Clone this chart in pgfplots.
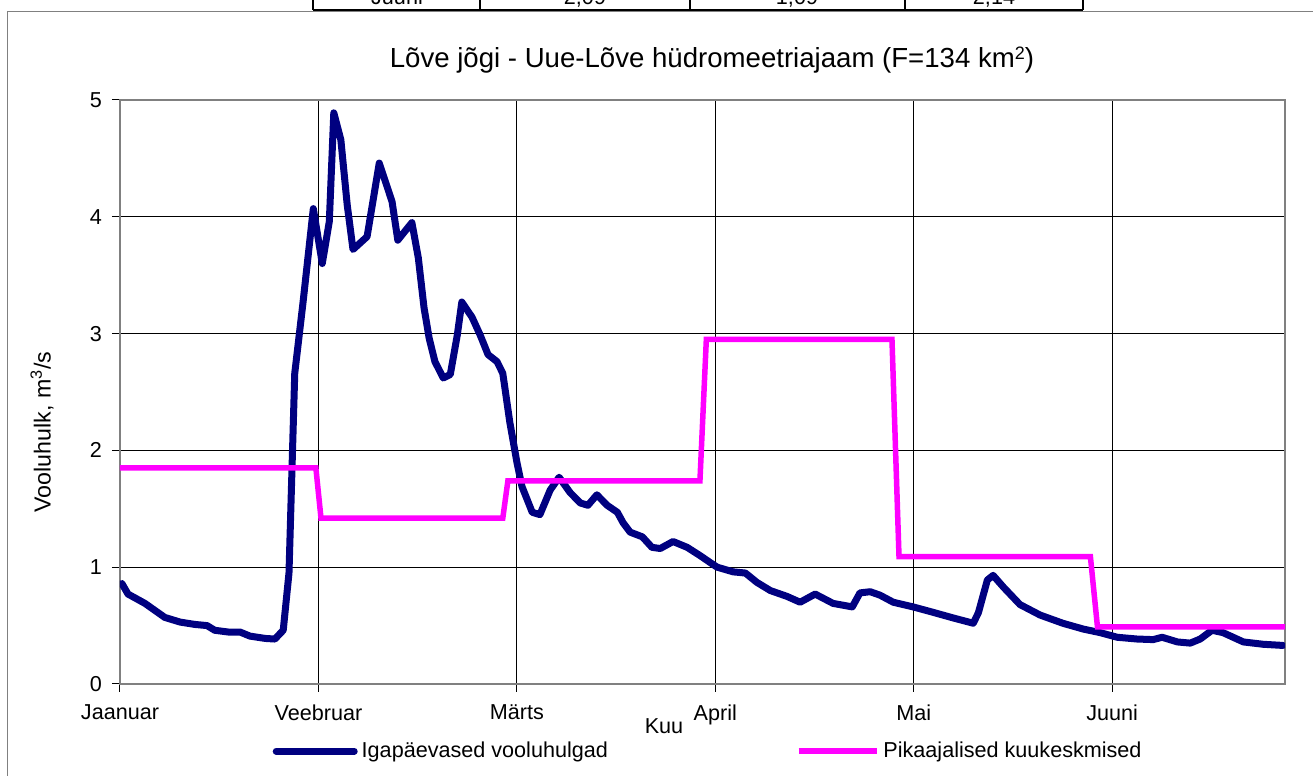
\documentclass[border=0pt]{standalone}
\usepackage{fontspec}
\setmainfont{Liberation Sans}
\usepackage{pgfplots}
\pgfplotsset{compat=1.18}
\definecolor{navyb}{RGB}{0,0,128}
\definecolor{magen}{RGB}{255,0,255}
\definecolor{axgray}{RGB}{128,128,128}
\newcommand{\fs}{\fontsize{10.8pt}{13pt}\selectfont}
\begin{document}
\begin{tikzpicture}
\useasboundingbox (0,0) rectangle (656.5pt,388pt);
% fragment of the table above the chart
\draw[black, line width=1pt] (156.5pt,383pt) -- (541.5pt,383pt);
\foreach \xx in {156.5,240,345,452.5,541.5} {\draw[black, line width=1pt] (\xx pt,383pt) -- (\xx pt,392pt);}
\node[anchor=base, font=\fs, inner sep=0pt] at (198.5pt,385.5pt) {Juuni};
\node[anchor=base, font=\fs, inner sep=0pt] at (292.5pt,385.5pt) {2,09};
\node[anchor=base, font=\fs, inner sep=0pt] at (398.5pt,385.5pt) {1,09};
\node[anchor=base, font=\fs, inner sep=0pt] at (497pt,385.5pt) {2,14};
% outer chart border
\draw[axgray, line width=0.8pt] (3.65pt,-5pt) -- (3.65pt,382.25pt) -- (660pt,382.25pt);
\begin{axis}[
  scale only axis, width=582.5pt, height=292pt,
  at={(60pt,46pt)}, anchor=south west,
  xmin=0, xmax=182, ymin=0, ymax=5,
  xtick={0,31,62,93,124,155},
  xticklabels={Jaanuar,Veebruar,Märts,April,Mai,Juuni},
  ytick={0,1,2,3,4,5},
  grid=major, major grid style={black, line width=0.5pt},
  axis line style={axgray, line width=1pt},
  tick style={black, line width=0.5pt},
  tick align=outside, tick pos=left, major tick length=4pt,
  /pgf/number format/assume math mode=true,
  tick label style={font=\fs},
  xticklabel style={yshift=-3pt},
  yticklabel style={xshift=-1.5pt},
  legend columns=2,
  legend style={at={(0.5057,-0.1150)}, anchor=center, draw=none, fill=none, font=\fs,
    /tikz/every even column/.append style={column sep=92pt}},
  legend image code/.code={\draw[#1] (0pt,0pt) -- (39pt,0pt);},
]
\addplot[navyb, line width=3.5pt, line join=round, line cap=round] coordinates {
(0.3,0.86) (1.25,0.77) (3.9,0.69) (7.0,0.57) (9.4,0.53) (11.7,0.51) (13.6,0.50)
(14.8,0.46) (16.9,0.445) (18.75,0.445) (20.3,0.41) (22.7,0.39) (24.2,0.385)
(25.5,0.46) (26.4,0.95) (27.3,2.66) (28.6,3.27) (30.2,4.07) (31.6,3.60) (32.7,3.96)
(33.4,4.89) (34.5,4.66) (35.5,4.10) (36.4,3.72) (38.6,3.83) (40.5,4.46) (42.5,4.13)
(43.4,3.80) (45.6,3.95) (46.6,3.65) (47.5,3.22) (48.3,2.96) (49.2,2.76) (50.5,2.62)
(51.6,2.65) (52.7,2.99) (53.4,3.27) (55.0,3.14) (56.25,2.99) (57.5,2.82) (58.9,2.76)
(59.8,2.66) (60.9,2.24) (62.0,1.90) (62.8,1.69) (64.4,1.47) (65.6,1.45) (67.2,1.66)
(68.6,1.77) (70.3,1.64) (71.9,1.55) (73.1,1.53) (74.5,1.62) (76.1,1.53) (77.7,1.47)
(78.6,1.38) (79.7,1.30) (81.6,1.26) (83.1,1.17) (84.4,1.16) (86.4,1.22) (88.6,1.17)
(90.6,1.10) (92.2,1.04) (93.3,1.00) (95.8,0.96) (97.7,0.95) (99.5,0.87) (101.6,0.80)
(104.2,0.75) (106.25,0.70) (108.6,0.77) (111.4,0.69) (114.4,0.66) (115.6,0.78)
(117.2,0.79) (118.75,0.76) (120.8,0.70) (123.9,0.66) (126.6,0.62) (130.2,0.565)
(133.3,0.52) (134.1,0.61) (135.5,0.89) (136.4,0.93) (138.0,0.83) (140.6,0.68)
(143.75,0.59) (147.3,0.52) (150.5,0.47) (153.1,0.44) (155.8,0.40) (158.9,0.385)
(161.4,0.38) (162.8,0.40) (165.2,0.36) (167.2,0.35) (168.75,0.385) (170.6,0.46)
(172.3,0.44) (175.5,0.36) (178.6,0.34) (181.7,0.33)
};
\addlegendentry{Igapäevased vooluhulgad}
\addplot[magen, line width=2.75pt, line join=miter] coordinates {
(0,1.85) (30.6,1.85) (31.4,1.42) (59.8,1.42) (60.6,1.74) (90.6,1.74) (91.6,2.95)
(120.6,2.95) (121.7,1.09) (151.6,1.09) (152.7,0.49) (182,0.49)
};
\addlegendentry{Pikaajalised kuukeskmised}
\end{axis}
\node[font=\fontsize{13.8pt}{16pt}\selectfont] at (356pt,358pt) {Lõve jõgi - Uue-Lõve hüdromeetriajaam (F=134 km\raisebox{0.5ex}{\fontsize{9pt}{10pt}\selectfont 2})};
\node[font=\fs] at (332pt,25pt) {Kuu};
\node[font=\fontsize{11.6pt}{14pt}\selectfont, rotate=90] at (21pt,172pt) {Vooluhulk, m\textsuperscript{3}/s};
\end{tikzpicture}
\end{document}
